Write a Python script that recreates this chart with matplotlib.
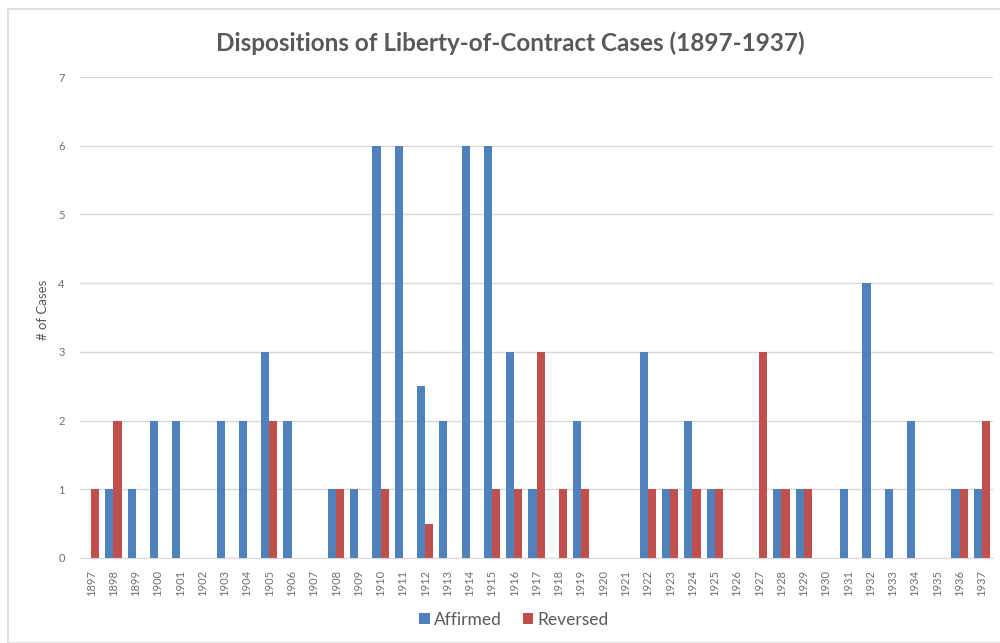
import matplotlib
matplotlib.use("Agg")
import matplotlib.pyplot as plt
import numpy as np
from matplotlib.patches import Rectangle

years = [str(y) for y in range(1897, 1938)]
affirmed = [0, 1, 1, 2, 2, 0, 2, 2, 3, 2, 0, 1, 1, 6, 6, 2.5, 2, 6, 6, 3, 1, 0, 2, 0, 0,
            3, 1, 2, 1, 0, 0, 1, 1, 0, 1, 4, 1, 2, 0, 1, 1]
reversed_ = [1, 2, 0, 0, 0, 0, 0, 0, 2, 0, 0, 1, 0, 1, 0, 0.5, 0, 0, 1, 1, 3, 1, 1, 0, 0,
             1, 1, 1, 1, 0, 3, 1, 1, 0, 0, 0, 0, 0, 0, 1, 2]
yticks = [0, 1, 2, 3, 4, 5, 6, 7]

plt.rcParams['font.family'] = ['Lato', 'DejaVu Sans']
grey = '#595959'
tgrey = '#6E6E6E'
blue = '#4F81BD'
red = '#C0504D'

fig = plt.figure(figsize=(10, 6.43), dpi=100)
ax = fig.add_axes([0.08, 1 - 558 / 643, 0.913, (558 - 77) / 643])

x = np.arange(len(years))
w = 0.365
ax.bar(x - w / 2, affirmed, width=w, color=blue, label='Affirmed', zorder=3)
ax.bar(x + w / 2, reversed_, width=w, color=red, label='Reversed', zorder=3)

ax.set_xlim(-0.5, len(years) - 0.5)
ax.set_ylim(0, 7)
ax.set_yticks(yticks)
ax.set_yticklabels([str(t) for t in yticks], fontsize=8, color=tgrey)
ax.set_xticks(x)
ax.set_xticklabels(years, rotation=90, fontsize=8, color=tgrey)
ax.tick_params(axis='both', length=0)
ax.tick_params(axis='y', pad=11)
ax.tick_params(axis='x', pad=8.5)
ax.grid(axis='y', color='#D9D9D9', linewidth=1, zorder=0)
for s in ['top', 'right', 'left']:
    ax.spines[s].set_visible(False)
ax.spines['bottom'].set_color('#D9D9D9')
ax.spines['bottom'].set_zorder(4)

fig.text(43 / 1000, 1 - 310 / 643, '# of Cases', rotation=90, fontsize=9.5, color=grey,
         ha='center', va='center')

fig.text(0.51, 1 - 43 / 643, 'Dispositions of Liberty-of-Contract Cases (1897-1937)',
         fontsize=17.5, fontweight='bold', color=grey, ha='center', va='center')

fig.legend(loc='center', bbox_to_anchor=(0.514, 1 - 620 / 643), ncol=2, frameon=False,
           fontsize=12.5, labelcolor=grey, handlelength=0.6, handleheight=0.6,
           handletextpad=0.25, columnspacing=1.2)

fig.patches.append(Rectangle((8 / 1000, 0), 1.2, 1 - 9 / 643, transform=fig.transFigure,
                             fill=False, edgecolor='#D9D9D9', linewidth=1.2))

fig.savefig('out.png', dpi=100)
